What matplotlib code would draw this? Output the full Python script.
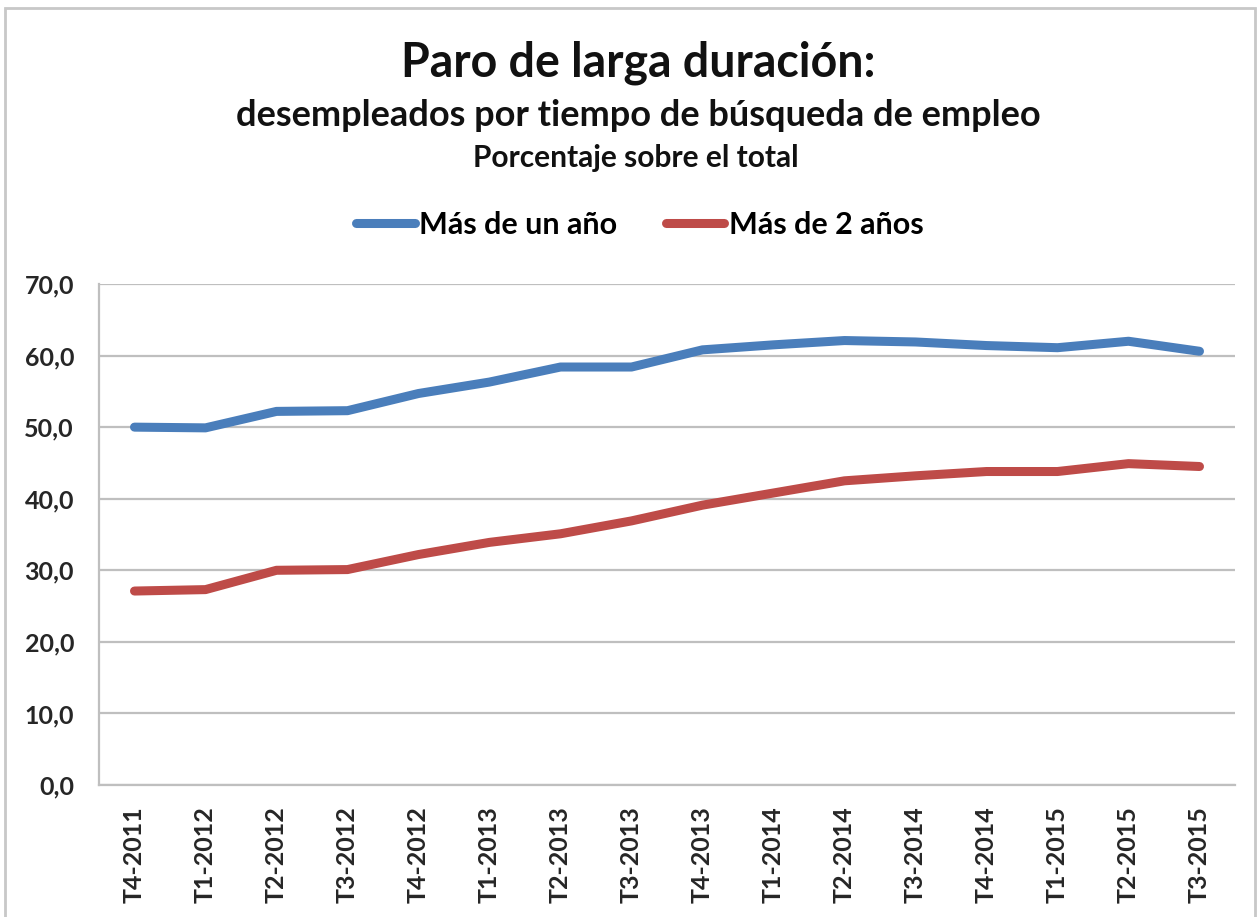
import matplotlib
matplotlib.use("Agg")
import matplotlib.pyplot as plt
from matplotlib.patches import Rectangle
from matplotlib.lines import Line2D

plt.rcParams['font.family'] = ['Lato', 'DejaVu Sans']

categories = ["T4-2011", "T1-2012", "T2-2012", "T3-2012", "T4-2012", "T1-2013",
              "T2-2013", "T3-2013", "T4-2013", "T1-2014", "T2-2014", "T3-2014",
              "T4-2014", "T1-2015", "T2-2015", "T3-2015"]
mas_un_ano = [50.0, 49.9, 52.2, 52.3, 54.7, 56.3, 58.4, 58.4, 60.8, 61.5,
              62.1, 61.9, 61.4, 61.1, 62.0, 60.6]
mas_dos_anos = [27.1, 27.3, 30.0, 30.1, 32.2, 33.9, 35.1, 36.9, 39.1, 40.8,
                42.5, 43.2, 43.8, 43.8, 44.9, 44.5]
series_names = ["Más de un año", "Más de 2 años"]
colors = ["#4a7ebb", "#be4b48"]
yticks = [0, 10, 20, 30, 40, 50, 60, 70]

W, H = 1260, 917
fig = plt.figure(figsize=(W / 100, H / 100), dpi=100)
fig.patch.set_facecolor("white")

# outer chart border
fig.patches.append(Rectangle((5 / W, -0.05), 1250 / W, 1.05 - 8 / H,
                             transform=fig.transFigure, fill=False,
                             edgecolor="#c8c8c8", linewidth=2.0, zorder=0))

left, right, top, bottom = 99, 1235, 284, 785
ax = fig.add_axes([left / W, 1 - bottom / H, (right - left) / W, (bottom - top) / H])

x = list(range(len(categories)))
ax.plot(x, mas_un_ano, color=colors[0], linewidth=6.5, solid_capstyle="round",
        solid_joinstyle="round", zorder=3)
ax.plot(x, mas_dos_anos, color=colors[1], linewidth=6.5, solid_capstyle="round",
        solid_joinstyle="round", zorder=3)

ax.set_xlim(-0.5, len(categories) - 0.5)
ax.set_ylim(0, 70)
ax.set_yticks(yticks)
ax.set_yticklabels([f"{v:.1f}".replace(".", ",") for v in yticks],
                   fontsize=18, fontweight="bold", color="#262626")
ax.set_xticks(x)
ax.set_xticklabels(categories, rotation=90, fontsize=18, fontweight="bold",
                   color="#262626")
ax.tick_params(axis="both", length=0)
ax.tick_params(axis="y", pad=18)
ax.tick_params(axis="x", pad=15)

ax.grid(axis="y", color="#bfbfbf", linewidth=1.6)
ax.set_axisbelow(True)
for s in ["top", "right"]:
    ax.spines[s].set_visible(False)
for s in ["left", "bottom"]:
    ax.spines[s].set_color("#bfbfbf")
    ax.spines[s].set_linewidth(1.6)

# titles
fig.text(638 / W, 1 - 63 / H, "Paro de larga duración:", ha="center", va="center",
         fontsize=33.5, fontweight="bold", color="#111111")
fig.text(638 / W, 1 - 115 / H, "desempleados por tiempo de búsqueda de empleo",
         ha="center", va="center", fontsize=26, fontweight="bold", color="#111111")
fig.text(636 / W, 1 - 158 / H, "Porcentaje sobre el total", ha="center", va="center",
         fontsize=21.5, fontweight="bold", color="#111111")

handles = [Line2D([0], [0], color=colors[0], linewidth=6.5, solid_capstyle="round"),
           Line2D([0], [0], color=colors[1], linewidth=6.5, solid_capstyle="round")]
fig.legend(handles, series_names, loc="center", bbox_to_anchor=(640 / W, 1 - 225 / H),
           ncol=2, frameon=False, handlelength=1.9, handletextpad=0.15,
           columnspacing=1.6, prop={"size": 22, "weight": "bold"})

fig.savefig("out.png", dpi=100, facecolor="white")
